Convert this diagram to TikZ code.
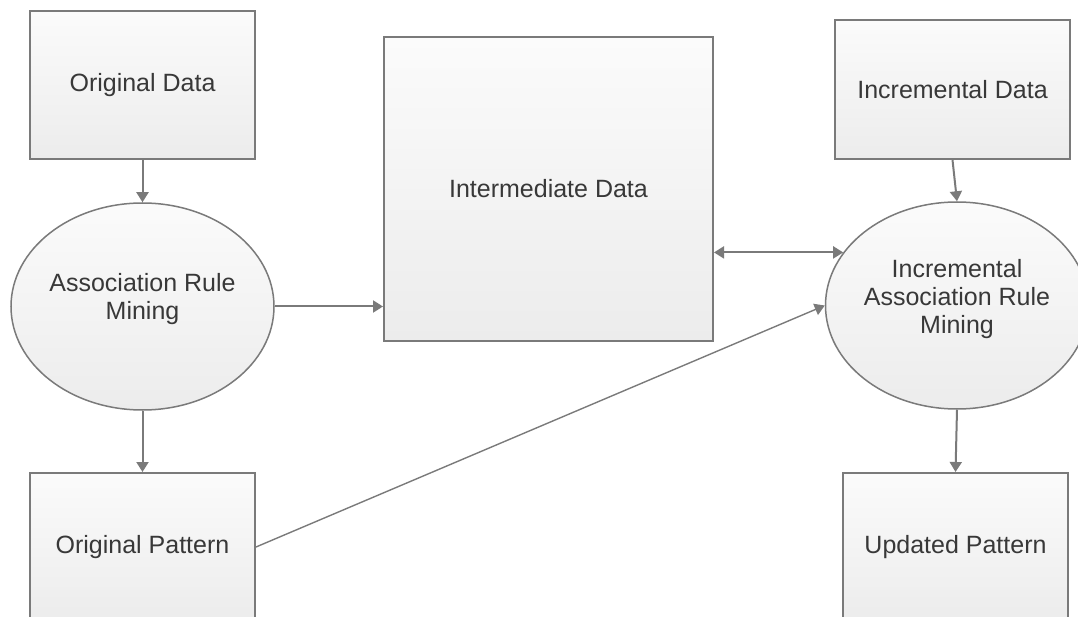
\documentclass[tikz,border=0pt]{standalone}
\usepackage{fontspec}
\setmainfont{Liberation Sans}
\usetikzlibrary{shapes.geometric,arrows.meta}
\definecolor{edgec}{HTML}{7A7A7A}
\definecolor{ink}{HTML}{383838}
\definecolor{ftop}{HTML}{FBFBFB}
\definecolor{fbot}{HTML}{ECECEC}
\tikzset{
  box/.style={draw=edgec, line width=2pt, top color=ftop, bottom color=fbot,
    inner sep=0pt, text=ink, font=\fontsize{25}{28}\selectfont, align=center},
  oval/.style={ellipse, draw=edgec, line width=1.5pt, top color=ftop, bottom color=fbot,
    inner sep=0pt, minimum width=263pt, minimum height=207pt},
  lbl/.style={text=ink, font=\fontsize{25}{28}\selectfont, align=center, inner sep=0pt},
  tip/.style={},
  conn/.style={draw=edgec, line width=2pt, -{Triangle[length=10pt,width=12pt]}},
  bconn/.style={draw=edgec, line width=2pt, {Triangle[length=10pt,width=12pt]}-{Triangle[length=10pt,width=12pt]}},
}
\begin{document}
\begin{tikzpicture}[x=1pt,y=-1pt]
\useasboundingbox (0,0) rectangle (1078,617);
\clip (0,0) rectangle (1078,617);
% boxes
\node[box, minimum width=225pt, minimum height=148pt] (od) at (142.5,85) {Original Data};
\node[box, minimum width=329pt, minimum height=304pt] (id) at (548.5,189) {Intermediate Data};
\node[box, minimum width=235pt, minimum height=139pt] (ind) at (952.5,89.5) {Incremental Data};
\node[box, minimum width=225pt, minimum height=148pt] (op) at (142.5,547) {Original Pattern};
\node[box, minimum width=225pt, minimum height=148pt] (up) at (955.5,547) {Updated Pattern};
% ellipses
\node[oval] (arm) at (142.5,306.5) {};
\node[lbl] (armt) at (142.5,299) {Association Rule\\Mining};
\node[oval] (iarm) at (957,305.5) {};
\node[lbl] (iarmt) at (957,299) {Incremental\\Association Rule\\Mining};
% connectors
\draw[conn] (od.south) -- (arm.north);
\draw[conn] (arm.south) -- (op.north);
\draw[conn] (arm.east) -- (arm.east -| id.west);
\draw[conn] (ind.south) -- (iarm.north);
\draw[conn] (iarm.south) -- (up.north);
\draw[bconn] (id.east |- iarm.155.5) -- (iarm.155.5);
\draw[conn, line width=1.4pt] (op.east) -- (iarm.west);
\end{tikzpicture}
\end{document}
